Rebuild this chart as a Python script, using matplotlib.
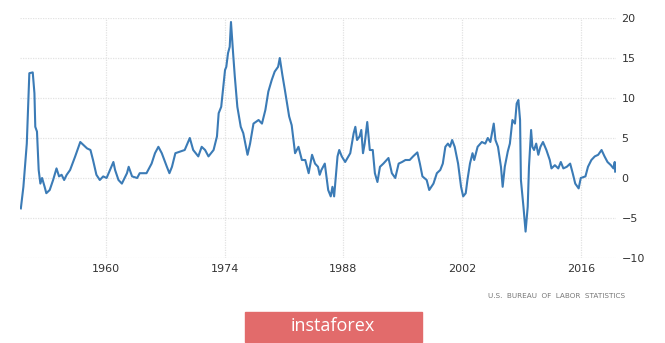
import numpy as np
import matplotlib
matplotlib.use("Agg")
import matplotlib.pyplot as plt
from matplotlib.patches import Rectangle

# values (year, % change)
years = [1950.0, 1950.3, 1950.7, 1951.0, 1951.4, 1951.6, 1951.7, 1951.9, 1952.1, 1952.3,
         1952.5, 1952.8, 1953.0, 1953.4, 1953.8, 1954.2, 1954.5, 1954.8, 1955.1, 1955.4,
         1955.8, 1956.4, 1957.0, 1957.4, 1957.8, 1958.2, 1958.5, 1958.9, 1959.3, 1959.7,
         1960.1, 1960.5, 1960.9, 1961.1, 1961.5, 1961.9, 1962.5, 1962.7, 1963.1, 1963.7,
         1964.0, 1964.8, 1965.4, 1965.8, 1966.2, 1966.6, 1967.2, 1967.5, 1967.8, 1968.2,
         1968.75, 1969.3, 1969.9, 1970.3, 1970.9, 1971.3, 1971.7, 1972.1, 1972.7, 1973.1,
         1973.3, 1973.6, 1973.85, 1974.05, 1974.2, 1974.4, 1974.6, 1974.75, 1975.0, 1975.2,
         1975.5, 1975.9, 1976.2, 1976.7, 1977.0, 1977.4, 1978.0, 1978.4, 1978.8, 1979.15,
         1979.55, 1979.9, 1980.3, 1980.5, 1980.8, 1981.1, 1981.6, 1981.9, 1982.3, 1982.7,
         1983.1, 1983.5, 1983.9, 1984.3, 1984.65, 1985.0, 1985.2, 1985.4, 1985.8, 1986.2,
         1986.5, 1986.7, 1986.9, 1987.1, 1987.3, 1987.5, 1987.8, 1988.2, 1988.8, 1989.2,
         1989.4, 1989.6, 1989.9, 1990.1, 1990.3, 1990.5, 1990.8, 1991.1, 1991.45, 1991.7,
         1992.0, 1992.3, 1992.7, 1993.3, 1993.7, 1994.1, 1994.5, 1994.9, 1995.3, 1995.8,
         1996.2, 1996.7, 1997.0, 1997.3, 1997.8, 1998.1, 1998.6, 1999.0, 1999.4, 1999.7,
         2000.0, 2000.3, 2000.55, 2000.8, 2001.1, 2001.5, 2001.85, 2002.1, 2002.4, 2002.6,
         2002.9, 2003.2, 2003.4, 2003.8, 2004.3, 2004.7, 2005.0, 2005.3, 2005.7, 2005.9,
         2006.2, 2006.55, 2006.75, 2007.0, 2007.35, 2007.6, 2007.9, 2008.2, 2008.4, 2008.6,
         2008.8, 2008.9, 2009.2, 2009.45, 2009.7, 2009.85, 2010.1, 2010.25, 2010.45, 2010.7,
         2010.95, 2011.2, 2011.5, 2011.9, 2012.3, 2012.5, 2012.9, 2013.3, 2013.6, 2013.9,
         2014.3, 2014.7, 2015.0, 2015.3, 2015.7, 2015.95, 2016.5, 2016.8, 2017.2, 2017.6,
         2018.0, 2018.4, 2018.75, 2019.1, 2019.5, 2019.8, 2019.95, 2020.0]
ppi = [-3.8, -1.1, 4.3, 13.1, 13.2, 10.6, 6.4, 5.8, 1.0, -0.7,
       0.0, -1.1, -1.9, -1.5, -0.25, 1.2, 0.2, 0.4, -0.25, 0.4,
       1.0, 2.7, 4.5, 4.1, 3.7, 3.5, 2.25, 0.4, -0.25, 0.2,
       0.0, 1.0, 2.0, 1.0, -0.25, -0.7, 0.6, 1.4, 0.2, 0.0,
       0.6, 0.6, 1.8, 3.1, 3.9, 3.1, 1.4, 0.6, 1.4, 3.1,
       3.3, 3.5, 5.0, 3.5, 2.7, 3.9, 3.5, 2.7, 3.5, 5.2,
       8.1, 8.9, 11.4, 13.5, 13.9, 15.6, 16.4, 19.5, 15.6, 12.7,
       8.9, 6.4, 5.6, 2.9, 4.3, 6.8, 7.25, 6.8, 8.5, 10.8,
       12.25, 13.3, 13.9, 15.0, 12.9, 11.0, 7.7, 6.6, 3.1, 3.9,
       2.25, 2.25, 0.6, 2.9, 1.8, 1.4, 0.4, 1.0, 1.8, -1.5,
       -2.3, -1.1, -2.3, 0.2, 2.7, 3.5, 2.7, 2.0, 3.1, 5.6,
       6.4, 4.75, 5.2, 6.0, 3.1, 4.3, 7.0, 3.5, 3.5, 0.6,
       -0.5, 1.4, 1.8, 2.5, 0.6, 0.0, 1.8, 2.0, 2.25, 2.25,
       2.7, 3.2, 1.8, 0.2, -0.25, -1.5, -0.7, 0.6, 1.0, 1.8,
       3.9, 4.3, 3.9, 4.75, 3.9, 1.8, -1.1, -2.3, -1.9, -0.25,
       1.8, 3.1, 2.25, 3.9, 4.5, 4.3, 5.0, 4.5, 6.8, 4.75,
       3.9, 1.4, -1.1, 1.4, 3.3, 4.3, 7.25, 6.8, 9.3, 9.75,
       7.25, -0.25, -3.6, -6.7, -3.6, 1.4, 6.0, 3.9, 3.5, 4.3,
       2.9, 3.9, 4.5, 3.5, 2.25, 1.2, 1.6, 1.2, 2.0, 1.2,
       1.4, 1.8, 0.6, -0.7, -1.3, 0.0, 0.2, 1.4, 2.25, 2.7,
       2.9, 3.5, 2.7, 2.0, 1.6, 1.2, 2.0, 0.8]

year_ticks = [1960, 1974, 1988, 2002, 2016]
value_ticks = [-10, -5, 0, 5, 10, 15, 20]

fig = plt.figure(figsize=(6.65, 3.43), dpi=100)
ax = fig.add_axes([20 / 665, 85 / 343, 596 / 665, 240 / 343])

ax.plot(years, ppi, color="#3b7bb6", linewidth=1.5)

ax.set_xlim(1949.9, 2020.1)
ax.set_ylim(-10, 20)
ax.set_xticks(year_ticks)
ax.set_yticks(value_ticks)
ax.yaxis.tick_right()
ax.tick_params(length=0, labelsize=8, labelcolor="#333333")
ax.tick_params(axis="y", pad=4)
ax.tick_params(axis="x", pad=4)
for s in ax.spines.values():
    s.set_visible(False)
ax.grid(True, color="#e2e2e2", linestyle=(0, (1, 1)), linewidth=0.9)
ax.set_axisbelow(True)

fig.text(557 / 665, 1 - 296 / 343, "U.S.  BUREAU  OF  LABOR  STATISTICS",
         fontsize=5.2, color="#777777", ha="center", va="center")

# banner
fig.patches.append(Rectangle((245 / 665, 1 / 343), 177 / 665, 30 / 343,
                             transform=fig.transFigure, color="#e26b6b"))
fig.text(333 / 665, 1 - 326 / 343, "instaforex", fontsize=13, color="white",
         family="Open Sans", ha="center", va="center")

fig.savefig("out.png", dpi=100)
